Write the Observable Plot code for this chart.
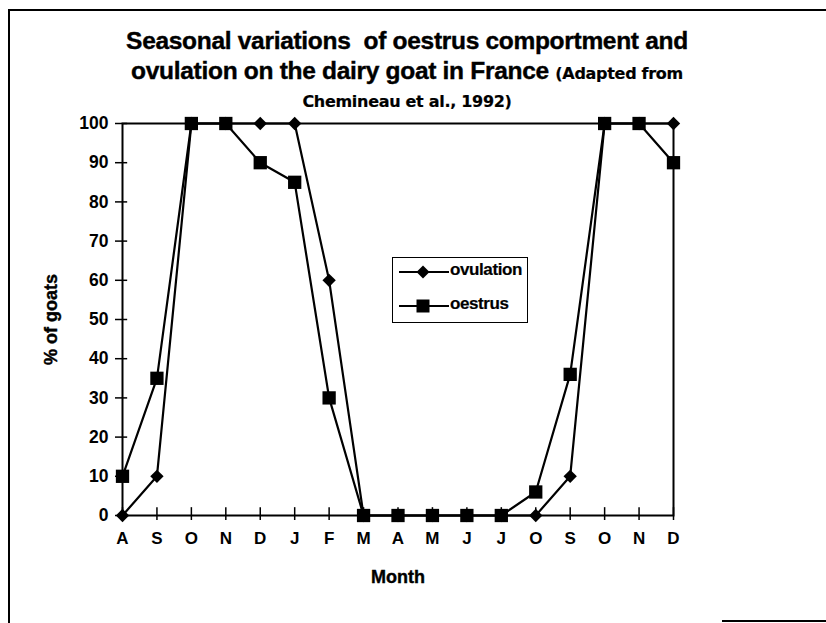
<!DOCTYPE html>
<html>
<head>
<meta charset="utf-8">
<script src="https://cdn.jsdelivr.net/npm/d3@7"></script>
<script src="https://cdn.jsdelivr.net/npm/@observablehq/plot@0.6"></script>
<style>
  html, body { margin: 0; padding: 0; background: #fff; }
  #wrap { position: relative; width: 826px; height: 623px; overflow: hidden; font-family: "Liberation Sans", Arial, sans-serif; color: #000; }
  #wrap svg { position: absolute; left: 0; top: 0; }
  .t { position: absolute; left: 0; width: 814px; text-align: center; font-weight: bold; white-space: nowrap; -webkit-text-stroke: 0.4px #000; }
  .sm { font-family: "DejaVu Sans", sans-serif; font-size: 16px; letter-spacing: -0.3px; -webkit-text-stroke: 0.2px #000; }
  #frameTop { position: absolute; left: 8px; top: 9px; width: 818px; height: 0; border-top: 2px solid #000; }
  #frameLeft { position: absolute; left: 8px; top: 9px; width: 0; height: 614px; border-left: 2px solid #000; }
  #frameBot { position: absolute; left: 722px; top: 620px; width: 104px; height: 0; border-top: 2px solid #000; }
  #legend { position: absolute; left: 392px; top: 257px; width: 134px; height: 64px; border: 1.5px solid #000; background: #fff; }
  #legend svg { position: absolute; left: 0; top: 0; }
  .lt { position: absolute; font-weight: bold; font-size: 17px; letter-spacing: -0.4px; -webkit-text-stroke: 0.2px #000; }
</style>
</head>
<body>
<div id="wrap">
  <div id="chart"></div>
  <div id="frameTop"></div>
  <div id="frameLeft"></div>
  <div id="frameBot"></div>
  <div class="t" style="top:27px;font-size:24.5px;letter-spacing:-0.3px;">Seasonal variations&nbsp; of oestrus comportment and</div>
  <div class="t" style="top:57px;font-size:24.5px;letter-spacing:-0.3px;">ovulation on the dairy goat in France <span class="sm">(Adapted from</span></div>
  <div class="t sm" style="top:92px;">Chemineau et al., 1992)</div>
  <div id="legend"></div>
</div>
<script>
const months = ["A","S","O","N","D","J","F","M","A","M","J","J","O","S","O","N","D"];
const ovulation = [0,10,100,100,100,100,60,0,0,0,0,0,0,10,100,100,100];
const oestrus = [10,35,100,100,90,85,30,0,0,0,0,0,6,36,100,100,90];
const yTicks = [0,10,20,30,40,50,60,70,80,90,100];
const seriesNames = ["ovulation","oestrus"];

const ovData = months.map((m, i) => ({i, m, v: ovulation[i]}));
const oeData = months.map((m, i) => ({i, m, v: oestrus[i]}));

const font = "Liberation Sans, Arial, sans-serif";

const plot = Plot.plot({
  width: 826,
  height: 623,
  marginLeft: 122,
  marginRight: 153,
  marginTop: 123,
  marginBottom: 108,
  style: {fontFamily: font, fontWeight: "bold", fontSize: "17px", color: "#000", background: "transparent"},
  x: {type: "linear", domain: [0, months.length - 1]},
  y: {domain: [0, 100]},
  marks: [
    Plot.frame({stroke: "#000", strokeWidth: 2}),
    Plot.axisY({ticks: yTicks, tickSize: 7, tickPadding: 7, tickFormat: d => d, label: "% of goats", labelAnchor: "center", labelArrow: "none", labelOffset: 78, fontSize: 17.5, fontWeight: "bold", strokeWidth: 1.5}),
    Plot.ruleY(yTicks, {y: d => d, x1: 0, x2: 0.15, stroke: "#000", strokeWidth: 1.5}),
    Plot.axisX({ticks: d3.range(months.length), tickSize: 5, tickPadding: 11, tickFormat: i => months[i], label: "Month", labelAnchor: "center", labelArrow: "none", labelOffset: 67, fontSize: 17, fontWeight: "bold", strokeWidth: 1.5}),
    Plot.ruleX(d3.range(months.length), {x: d => d, y1: 0, y2: 2, stroke: "#000", strokeWidth: 1.5}),
    Plot.line(ovData, {x: "i", y: "v", stroke: "#000", strokeWidth: 2.2}),
    Plot.line(oeData, {x: "i", y: "v", stroke: "#000", strokeWidth: 2.2}),
    Plot.dot(ovData, {x: "i", y: "v", symbol: "diamond2", r: 6, fill: "#000", stroke: "none"}),
    Plot.dot(oeData, {x: "i", y: "v", symbol: "square", r: 7.5, fill: "#000", stroke: "none"})
  ]
});
plot.querySelectorAll("[aria-label='y-axis label'] text, [aria-label='x-axis label'] text").forEach(t => { t.setAttribute("stroke", "#000"); t.setAttribute("stroke-width", "0.4"); });
plot.querySelectorAll("[aria-label='y-axis label'], [aria-label='x-axis label']").forEach(g => { g.setAttribute("font-size", "18"); });
document.getElementById("chart").appendChild(plot);

// Legend
const leg = document.getElementById("legend");
const ns = "http://www.w3.org/2000/svg";
const lsvg = document.createElementNS(ns, "svg");
lsvg.setAttribute("width", 134); lsvg.setAttribute("height", 64);
const rows = [{y: 14, sym: "d"}, {y: 48, sym: "s"}];
rows.forEach((r, k) => {
  const ln = document.createElementNS(ns, "line");
  ln.setAttribute("x1", 6); ln.setAttribute("x2", 56); ln.setAttribute("y1", r.y); ln.setAttribute("y2", r.y);
  ln.setAttribute("stroke", "#000"); ln.setAttribute("stroke-width", 2);
  lsvg.appendChild(ln);
  const p = document.createElementNS(ns, "path");
  if (r.sym === "d") p.setAttribute("d", `M30,${r.y-6.5}L36.5,${r.y}L30,${r.y+6.5}L23.5,${r.y}Z`);
  else p.setAttribute("d", `M23.5,${r.y-6.5}h13v13h-13Z`);
  p.setAttribute("fill", "#000");
  lsvg.appendChild(p);
  const t = document.createElement("div");
  t.className = "lt";
  t.style.left = "57px"; t.style.top = (r.y - 12) + "px";
  t.textContent = seriesNames[k];
  leg.appendChild(t);
});
leg.appendChild(lsvg);
</script>
</body>
</html>
